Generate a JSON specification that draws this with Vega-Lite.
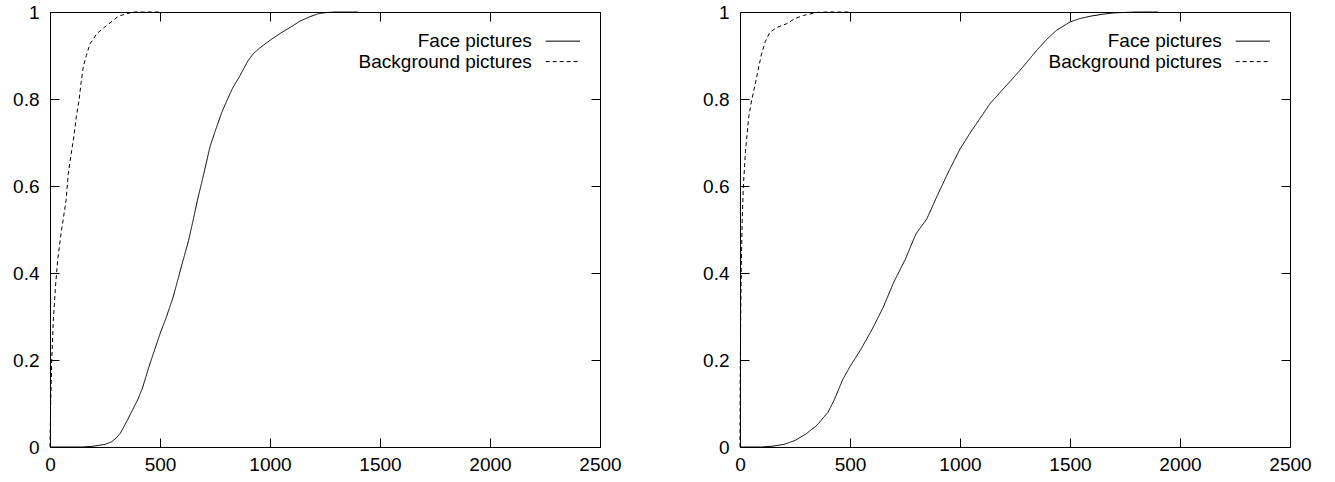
{
  "$schema": "https://vega.github.io/schema/vega-lite/v6.json",
  "background": "white",
  "padding": {"left": 12, "top": 2, "right": 5, "bottom": 5},
  "bounds": "flush",
  "spacing": 140,
  "config": {
    "view": {"stroke": "black", "strokeWidth": 1},
    "axis": {"grid": false, "domain": false, "labelFont": "Liberation Sans", "labelFontSize": 19, "labelColor": "black", "tickColor": "black", "tickSize": -9, "tickWidth": 1, "title": null, "labelFlush": false, "labelOverlap": false},
    "text": {"font": "Liberation Sans", "fontSize": 19, "color": "black"}
  },
  "datasets": {
    "cdf": [
      {"panel":"L","series":"Face pictures","t":0,"p":0},
      {"panel":"L","series":"Face pictures","t":150,"p":0},
      {"panel":"L","series":"Face pictures","t":200,"p":0.002},
      {"panel":"L","series":"Face pictures","t":250,"p":0.006},
      {"panel":"L","series":"Face pictures","t":280,"p":0.012},
      {"panel":"L","series":"Face pictures","t":300,"p":0.02},
      {"panel":"L","series":"Face pictures","t":320,"p":0.032},
      {"panel":"L","series":"Face pictures","t":350,"p":0.06},
      {"panel":"L","series":"Face pictures","t":380,"p":0.09},
      {"panel":"L","series":"Face pictures","t":400,"p":0.11},
      {"panel":"L","series":"Face pictures","t":420,"p":0.135},
      {"panel":"L","series":"Face pictures","t":450,"p":0.185},
      {"panel":"L","series":"Face pictures","t":480,"p":0.23},
      {"panel":"L","series":"Face pictures","t":500,"p":0.26},
      {"panel":"L","series":"Face pictures","t":530,"p":0.3},
      {"panel":"L","series":"Face pictures","t":560,"p":0.345},
      {"panel":"L","series":"Face pictures","t":600,"p":0.42},
      {"panel":"L","series":"Face pictures","t":630,"p":0.475},
      {"panel":"L","series":"Face pictures","t":650,"p":0.52},
      {"panel":"L","series":"Face pictures","t":670,"p":0.567},
      {"panel":"L","series":"Face pictures","t":700,"p":0.63},
      {"panel":"L","series":"Face pictures","t":727,"p":0.69},
      {"panel":"L","series":"Face pictures","t":750,"p":0.725},
      {"panel":"L","series":"Face pictures","t":780,"p":0.768},
      {"panel":"L","series":"Face pictures","t":803,"p":0.795},
      {"panel":"L","series":"Face pictures","t":830,"p":0.825},
      {"panel":"L","series":"Face pictures","t":864,"p":0.854},
      {"panel":"L","series":"Face pictures","t":900,"p":0.888},
      {"panel":"L","series":"Face pictures","t":924,"p":0.904},
      {"panel":"L","series":"Face pictures","t":950,"p":0.916},
      {"panel":"L","series":"Face pictures","t":1000,"p":0.935},
      {"panel":"L","series":"Face pictures","t":1050,"p":0.952},
      {"panel":"L","series":"Face pictures","t":1100,"p":0.967},
      {"panel":"L","series":"Face pictures","t":1136,"p":0.979},
      {"panel":"L","series":"Face pictures","t":1180,"p":0.989},
      {"panel":"L","series":"Face pictures","t":1220,"p":0.996},
      {"panel":"L","series":"Face pictures","t":1260,"p":0.999},
      {"panel":"L","series":"Face pictures","t":1300,"p":1},
      {"panel":"L","series":"Face pictures","t":1400,"p":1},
      {"panel":"L","series":"Background pictures","t":0,"p":0},
      {"panel":"L","series":"Background pictures","t":3,"p":0.1},
      {"panel":"L","series":"Background pictures","t":8,"p":0.2},
      {"panel":"L","series":"Background pictures","t":15,"p":0.29},
      {"panel":"L","series":"Background pictures","t":25,"p":0.37},
      {"panel":"L","series":"Background pictures","t":35,"p":0.43},
      {"panel":"L","series":"Background pictures","t":50,"p":0.49},
      {"panel":"L","series":"Background pictures","t":62,"p":0.53},
      {"panel":"L","series":"Background pictures","t":73,"p":0.567},
      {"panel":"L","series":"Background pictures","t":83,"p":0.628},
      {"panel":"L","series":"Background pictures","t":95,"p":0.67},
      {"panel":"L","series":"Background pictures","t":106,"p":0.705},
      {"panel":"L","series":"Background pictures","t":120,"p":0.76},
      {"panel":"L","series":"Background pictures","t":132,"p":0.797},
      {"panel":"L","series":"Background pictures","t":142,"p":0.84},
      {"panel":"L","series":"Background pictures","t":151,"p":0.873},
      {"panel":"L","series":"Background pictures","t":165,"p":0.9},
      {"panel":"L","series":"Background pictures","t":182,"p":0.927},
      {"panel":"L","series":"Background pictures","t":200,"p":0.94},
      {"panel":"L","series":"Background pictures","t":212,"p":0.95},
      {"panel":"L","series":"Background pictures","t":240,"p":0.962},
      {"panel":"L","series":"Background pictures","t":265,"p":0.972},
      {"panel":"L","series":"Background pictures","t":288,"p":0.981},
      {"panel":"L","series":"Background pictures","t":305,"p":0.988},
      {"panel":"L","series":"Background pictures","t":321,"p":0.992},
      {"panel":"L","series":"Background pictures","t":350,"p":0.996},
      {"panel":"L","series":"Background pictures","t":378,"p":1},
      {"panel":"L","series":"Background pictures","t":500,"p":1},
      {"panel":"R","series":"Face pictures","t":0,"p":0},
      {"panel":"R","series":"Face pictures","t":100,"p":0},
      {"panel":"R","series":"Face pictures","t":150,"p":0.002},
      {"panel":"R","series":"Face pictures","t":200,"p":0.006},
      {"panel":"R","series":"Face pictures","t":250,"p":0.015},
      {"panel":"R","series":"Face pictures","t":300,"p":0.03},
      {"panel":"R","series":"Face pictures","t":350,"p":0.05},
      {"panel":"R","series":"Face pictures","t":400,"p":0.08},
      {"panel":"R","series":"Face pictures","t":430,"p":0.11},
      {"panel":"R","series":"Face pictures","t":466,"p":0.154},
      {"panel":"R","series":"Face pictures","t":500,"p":0.185},
      {"panel":"R","series":"Face pictures","t":550,"p":0.225},
      {"panel":"R","series":"Face pictures","t":600,"p":0.27},
      {"panel":"R","series":"Face pictures","t":650,"p":0.32},
      {"panel":"R","series":"Face pictures","t":700,"p":0.38},
      {"panel":"R","series":"Face pictures","t":750,"p":0.43},
      {"panel":"R","series":"Face pictures","t":800,"p":0.49},
      {"panel":"R","series":"Face pictures","t":850,"p":0.525},
      {"panel":"R","series":"Face pictures","t":894,"p":0.575},
      {"panel":"R","series":"Face pictures","t":950,"p":0.635},
      {"panel":"R","series":"Face pictures","t":1000,"p":0.685},
      {"panel":"R","series":"Face pictures","t":1050,"p":0.725},
      {"panel":"R","series":"Face pictures","t":1100,"p":0.762},
      {"panel":"R","series":"Face pictures","t":1136,"p":0.789},
      {"panel":"R","series":"Face pictures","t":1200,"p":0.825},
      {"panel":"R","series":"Face pictures","t":1273,"p":0.866},
      {"panel":"R","series":"Face pictures","t":1349,"p":0.912},
      {"panel":"R","series":"Face pictures","t":1400,"p":0.94},
      {"panel":"R","series":"Face pictures","t":1439,"p":0.958},
      {"panel":"R","series":"Face pictures","t":1500,"p":0.977},
      {"panel":"R","series":"Face pictures","t":1545,"p":0.985},
      {"panel":"R","series":"Face pictures","t":1600,"p":0.991},
      {"panel":"R","series":"Face pictures","t":1650,"p":0.995},
      {"panel":"R","series":"Face pictures","t":1700,"p":0.998},
      {"panel":"R","series":"Face pictures","t":1803,"p":1},
      {"panel":"R","series":"Face pictures","t":1900,"p":1},
      {"panel":"R","series":"Background pictures","t":0,"p":0},
      {"panel":"R","series":"Background pictures","t":1,"p":0.15},
      {"panel":"R","series":"Background pictures","t":3,"p":0.3},
      {"panel":"R","series":"Background pictures","t":6,"p":0.42},
      {"panel":"R","series":"Background pictures","t":10,"p":0.52},
      {"panel":"R","series":"Background pictures","t":15,"p":0.598},
      {"panel":"R","series":"Background pictures","t":25,"p":0.68},
      {"panel":"R","series":"Background pictures","t":40,"p":0.76},
      {"panel":"R","series":"Background pictures","t":53,"p":0.797},
      {"panel":"R","series":"Background pictures","t":65,"p":0.825},
      {"panel":"R","series":"Background pictures","t":76,"p":0.851},
      {"panel":"R","series":"Background pictures","t":87,"p":0.878},
      {"panel":"R","series":"Background pictures","t":98,"p":0.904},
      {"panel":"R","series":"Background pictures","t":115,"p":0.932},
      {"panel":"R","series":"Background pictures","t":136,"p":0.954},
      {"panel":"R","series":"Background pictures","t":170,"p":0.965},
      {"panel":"R","series":"Background pictures","t":212,"p":0.973},
      {"panel":"R","series":"Background pictures","t":250,"p":0.985},
      {"panel":"R","series":"Background pictures","t":288,"p":0.992},
      {"panel":"R","series":"Background pictures","t":348,"p":0.999},
      {"panel":"R","series":"Background pictures","t":400,"p":1},
      {"panel":"R","series":"Background pictures","t":500,"p":1}
    ],
    "legendFace": [{"label": "Face pictures"}],
    "legendBg": [{"label": "Background pictures"}]
  },
  "hconcat": [
    {
      "width": 550,
      "height": 435,
      "layer": [
        {
          "data": {"name": "cdf"},
          "transform": [{"filter": "datum.panel == 'L'"}],
          "mark": {"type": "line", "color": "black", "strokeWidth": 1},
          "encoding": {
            "x": {"field": "t", "type": "quantitative", "scale": {"domain": [0, 2500], "nice": false}, "axis": {"orient": "bottom", "values": [0, 500, 1000, 1500, 2000, 2500], "format": "d", "labelPadding": 17}},
            "y": {"field": "p", "type": "quantitative", "scale": {"domain": [0, 1], "nice": false}, "axis": {"orient": "left", "values": [0, 0.2, 0.4, 0.6, 0.8, 1], "format": "~g", "labelPadding": 20}},
            "strokeDash": {"field": "series", "type": "nominal", "scale": {"domain": ["Face pictures", "Background pictures"], "range": [[1, 0], [4, 3]]}, "legend": null}
          }
        },
        {
          "data": {"name": "cdf"},
          "transform": [{"filter": "datum.panel == 'L'"}],
          "mark": {"type": "line", "opacity": 0},
          "encoding": {
            "x": {"field": "t", "type": "quantitative", "axis": {"orient": "top", "values": [0, 500, 1000, 1500, 2000, 2500], "labels": false}},
            "y": {"field": "p", "type": "quantitative", "axis": {"orient": "right", "values": [0, 0.2, 0.4, 0.6, 0.8, 1], "labels": false}},
            "detail": {"field": "series"}
          }
        },
        {
          "data": {"name": "legendFace"},
          "mark": {"type": "text", "align": "right", "baseline": "middle"},
          "encoding": {
            "x": {"datum": 2190, "type": "quantitative", "axis": null},
            "y": {"datum": 0.933, "type": "quantitative", "axis": null},
            "text": {"field": "label"}
          }
        },
        {
          "data": {"name": "legendBg"},
          "mark": {"type": "text", "align": "right", "baseline": "middle"},
          "encoding": {
            "x": {"datum": 2190, "type": "quantitative", "axis": null},
            "y": {"datum": 0.886, "type": "quantitative", "axis": null},
            "text": {"field": "label"}
          }
        },
        {
          "data": {"name": "legendFace"},
          "mark": {"type": "rule", "color": "black", "strokeWidth": 1},
          "encoding": {
            "x": {"datum": 2253, "type": "quantitative", "axis": null},
            "x2": {"datum": 2409},
            "y": {"datum": 0.933, "type": "quantitative", "axis": null}
          }
        },
        {
          "data": {"name": "legendBg"},
          "mark": {"type": "rule", "color": "black", "strokeWidth": 1, "strokeDash": [4, 3]},
          "encoding": {
            "x": {"datum": 2253, "type": "quantitative", "axis": null},
            "x2": {"datum": 2409},
            "y": {"datum": 0.886, "type": "quantitative", "axis": null}
          }
        }
      ],
      "resolve": {"axis": {"x": "independent", "y": "independent"}}
    },
    {
      "width": 550,
      "height": 435,
      "layer": [
        {
          "data": {"name": "cdf"},
          "transform": [{"filter": "datum.panel == 'R'"}],
          "mark": {"type": "line", "color": "black", "strokeWidth": 1},
          "encoding": {
            "x": {"field": "t", "type": "quantitative", "scale": {"domain": [0, 2500], "nice": false}, "axis": {"orient": "bottom", "values": [0, 500, 1000, 1500, 2000, 2500], "format": "d", "labelPadding": 17}},
            "y": {"field": "p", "type": "quantitative", "scale": {"domain": [0, 1], "nice": false}, "axis": {"orient": "left", "values": [0, 0.2, 0.4, 0.6, 0.8, 1], "format": "~g", "labelPadding": 20}},
            "strokeDash": {"field": "series", "type": "nominal", "scale": {"domain": ["Face pictures", "Background pictures"], "range": [[1, 0], [4, 3]]}, "legend": null}
          }
        },
        {
          "data": {"name": "cdf"},
          "transform": [{"filter": "datum.panel == 'R'"}],
          "mark": {"type": "line", "opacity": 0},
          "encoding": {
            "x": {"field": "t", "type": "quantitative", "axis": {"orient": "top", "values": [0, 500, 1000, 1500, 2000, 2500], "labels": false}},
            "y": {"field": "p", "type": "quantitative", "axis": {"orient": "right", "values": [0, 0.2, 0.4, 0.6, 0.8, 1], "labels": false}},
            "detail": {"field": "series"}
          }
        },
        {
          "data": {"name": "legendFace"},
          "mark": {"type": "text", "align": "right", "baseline": "middle"},
          "encoding": {
            "x": {"datum": 2190, "type": "quantitative", "axis": null},
            "y": {"datum": 0.933, "type": "quantitative", "axis": null},
            "text": {"field": "label"}
          }
        },
        {
          "data": {"name": "legendBg"},
          "mark": {"type": "text", "align": "right", "baseline": "middle"},
          "encoding": {
            "x": {"datum": 2190, "type": "quantitative", "axis": null},
            "y": {"datum": 0.886, "type": "quantitative", "axis": null},
            "text": {"field": "label"}
          }
        },
        {
          "data": {"name": "legendFace"},
          "mark": {"type": "rule", "color": "black", "strokeWidth": 1},
          "encoding": {
            "x": {"datum": 2253, "type": "quantitative", "axis": null},
            "x2": {"datum": 2409},
            "y": {"datum": 0.933, "type": "quantitative", "axis": null}
          }
        },
        {
          "data": {"name": "legendBg"},
          "mark": {"type": "rule", "color": "black", "strokeWidth": 1, "strokeDash": [4, 3]},
          "encoding": {
            "x": {"datum": 2253, "type": "quantitative", "axis": null},
            "x2": {"datum": 2409},
            "y": {"datum": 0.886, "type": "quantitative", "axis": null}
          }
        }
      ],
      "resolve": {"axis": {"x": "independent", "y": "independent"}}
    }
  ]
}
